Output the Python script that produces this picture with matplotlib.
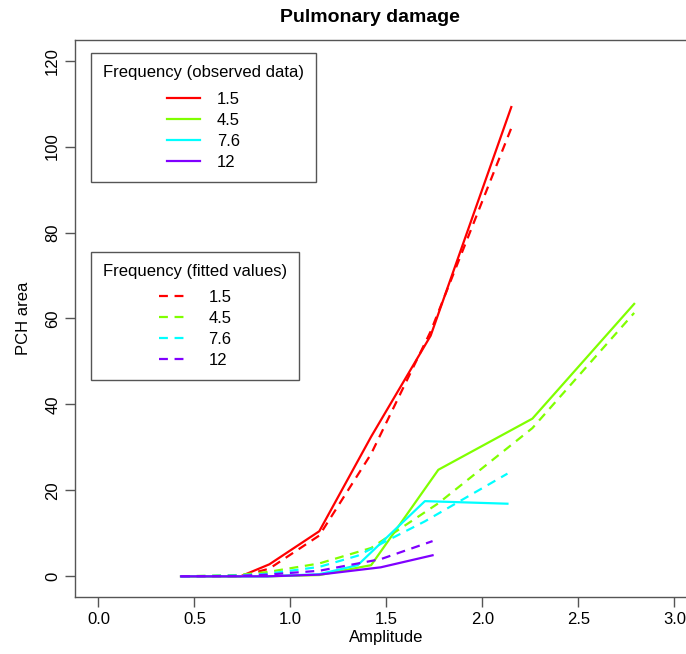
import matplotlib
matplotlib.use("Agg")
from matplotlib import pyplot as plt

plt.rcParams["font.family"] = ["Liberation Sans", "DejaVu Sans"]

# amplitudes per frequency
amp_15 = [0.43, 0.74, 0.89, 1.15, 1.42, 1.73, 2.15]
amp_45 = [0.43, 0.72, 0.88, 1.15, 1.42, 1.77, 2.26, 2.79]
amp_76 = [0.43, 0.72, 0.88, 1.15, 1.35, 1.70, 2.13]
amp_12 = [0.43, 0.72, 0.88, 1.15, 1.47, 1.74]

# observed PCH area
obs_15 = [0, 0, 2.8, 10.5, 32.5, 56, 109.2]
obs_45 = [0, 0, 0, 0.3, 2.6, 24.8, 36.7, 63.4]
obs_76 = [0, 0, 0, 0.5, 2.6, 17.5, 16.9]
obs_12 = [0, 0, 0, 0.4, 2.1, 4.9]

# fitted values
fit_15 = [0, 0, 1.8, 9.5, 28.5, 57, 104.3]
fit_45 = [0, 0.3, 1.0, 3.0, 6.6, 17.0, 34.5, 61.3]
fit_76 = [0, 0.2, 0.6, 2.2, 4.8, 12.8, 23.9]
fit_12 = [0, 0.1, 0.4, 1.3, 4.0, 8.2]

freq_labels = ["1.5", "4.5", "7.6", "12"]
colors = ["#FF0000", "#80FF00", "#00FFFF", "#8000FF"]

amps = [amp_15, amp_45, amp_76, amp_12]
obs = [obs_15, obs_45, obs_76, obs_12]
fits = [fit_15, fit_45, fit_76, fit_12]

fig = plt.figure(figsize=(6.86, 6.54), dpi=100)
ax = fig.add_axes([0.110, 0.0872, 0.9068, 0.8516])

obs_lines = []
fit_lines = []
for a, o, f, c, lab in zip(amps, obs, fits, colors, freq_labels):
    l1, = ax.plot(a, o, color=c, lw=1.6, label=lab)
    l2, = ax.plot(a, f, color=c, lw=1.6, ls=(0, (4, 3)), label=lab)
    obs_lines.append(l1)
    fit_lines.append(l2)

ax.set_xlim(-0.12, 3.12)
ax.set_ylim(-4.8, 124.8)
ax.set_xticks([0.0, 0.5, 1.0, 1.5, 2.0, 2.5, 3.0])
ax.set_xticklabels(["0.0", "0.5", "1.0", "1.5", "2.0", "2.5", "3.0"])
ax.set_yticks([0, 20, 40, 60, 80, 100, 120])
for lbl in ax.get_yticklabels():
    lbl.set_rotation(90)
    lbl.set_va("center")

for s in ax.spines.values():
    s.set_color("#555555")
    s.set_linewidth(1.0)
ax.tick_params(direction="out", length=7, width=1.0, color="#555555",
               labelsize=12, pad=4)

ax.set_xlabel("Amplitude", fontsize=12, labelpad=2)
ax.set_ylabel("PCH area", fontsize=12, labelpad=10)
fig.text(370 / 686, 1 - 18 / 654, "Pulmonary damage", fontsize=14,
         fontweight="bold", ha="center", va="center")

leg1 = ax.legend(handles=obs_lines, title="Frequency (observed data)",
                 loc="upper left", bbox_to_anchor=(0.025, 0.976),
                 fontsize=12, title_fontsize=12, fancybox=False,
                 edgecolor="#555555", framealpha=1, handlelength=2.0,
                 handletextpad=1.0, labelspacing=0.36, borderpad=0.72,
                 borderaxespad=0)
leg1.get_frame().set_linewidth(1.0)
leg1._legend_box.sep = 8
ax.add_artist(leg1)

leg2 = ax.legend(handles=fit_lines, title="Frequency (fitted values)",
                 loc="upper left", bbox_to_anchor=(0.025, 0.620),
                 fontsize=12, title_fontsize=12, fancybox=False,
                 edgecolor="#555555", framealpha=1, handlelength=1.7,
                 handletextpad=1.3, labelspacing=0.36, borderpad=0.72,
                 borderaxespad=0)
leg2.get_frame().set_linewidth(1.0)
leg2._legend_box.sep = 8

fig.savefig("out.png", dpi=100)
